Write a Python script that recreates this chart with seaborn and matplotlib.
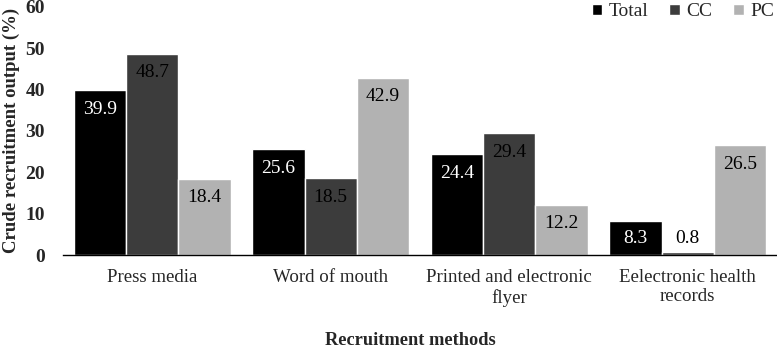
import pandas as pd
import numpy as np
import matplotlib.pyplot as plt
import seaborn as sns

# data
methods = ["Press media", "Word of mouth", "Printed and electronic\nflyer", "Eelectronic health\nrecords"]
groups = ["Total", "CC", "PC"]
total_vals = [39.9, 25.6, 24.4, 8.3]
cc_vals = [48.7, 18.5, 29.4, 0.8]
pc_vals = [18.4, 42.9, 12.2, 26.5]

colors = {"Total": "#000000", "CC": "#3c3c3c", "PC": "#b2b2b2"}
label_colors = {"Total": "white", "CC": "black", "PC": "black"}

df = pd.DataFrame({
    "method": methods * 3,
    "group": ["Total"] * 4 + ["CC"] * 4 + ["PC"] * 4,
    "value": total_vals + cc_vals + pc_vals,
})

sns.set_theme(style="white")
plt.rcParams['font.family'] = ['Liberation Serif', 'DejaVu Serif']

fig = plt.figure(figsize=(7.77, 3.51), dpi=100)
ax = fig.add_axes([0.081, 0.2735, 0.919, 0.707])

sns.barplot(data=df, x="method", y="value", hue="group", order=methods,
            hue_order=groups, palette=colors, saturation=1, width=0.88,
            errorbar=None, ax=ax)

# value labels just inside the top of each bar
for cont, g in zip(ax.containers, groups):
    for bar in cont:
        v = bar.get_height()
        y = max(v - 4.6, 4.1)
        ax.text(bar.get_x() + bar.get_width() / 2, y, f"{v:.1f}",
                ha="center", va="center", fontsize=14, color=label_colors[g])

ax.set_ylim(0, 60)
ax.set_xlim(-0.5, 3.5)
ax.set_yticks(np.arange(0, 61, 10))
ax.tick_params(axis="y", labelsize=14, length=0, pad=13)
ax.tick_params(axis="x", labelsize=13.6, length=0, pad=10)
for lab in ax.get_yticklabels():
    lab.set_fontweight("bold")

for s in ["top", "right", "left"]:
    ax.spines[s].set_visible(False)
ax.spines["bottom"].set_color("black")
ax.spines["bottom"].set_linewidth(1.0)

ax.set_ylabel("Crude recruitment output (%)", fontsize=13.5, fontweight="bold", labelpad=4)
ax.set_xlabel("Recruitment methods", fontsize=13.2, fontweight="bold")
ax.xaxis.label.set_va("center")
ax.xaxis.set_label_coords(0.487, -0.345)

ax.legend(loc="upper right", bbox_to_anchor=(1.02, 1.085), ncol=3, frameon=False,
          prop={"family": "Liberation Serif", "size": 14},
          handlelength=0.55, handleheight=0.55, handletextpad=0.3,
          columnspacing=1.1)

fig.savefig("out.png", dpi=100)
